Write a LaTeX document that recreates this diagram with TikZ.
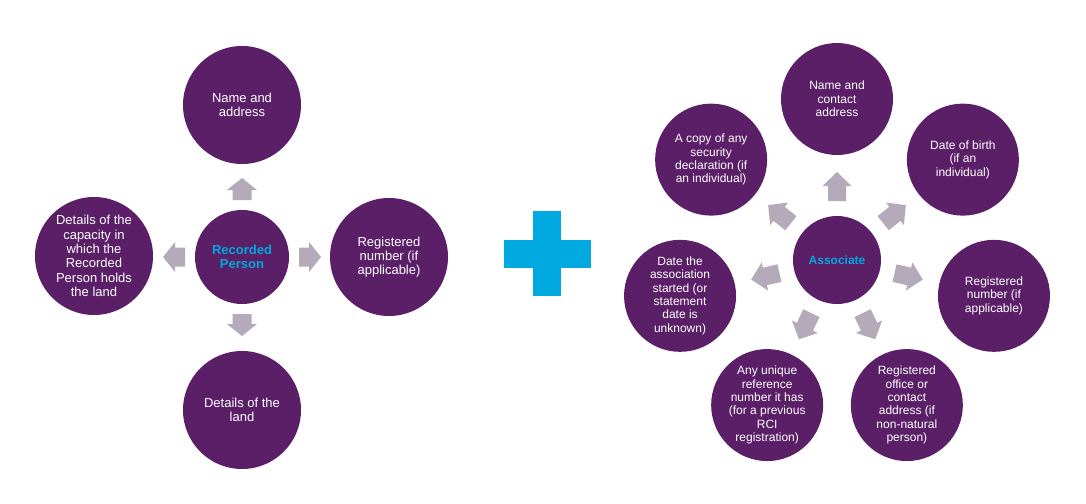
\documentclass[tikz,border=0pt]{standalone}
\usepackage{xcolor}
\usepackage{fontspec}
\setmainfont{Liberation Sans}
\usepackage{tikz}
\usetikzlibrary{positioning, calc}
\definecolor{rci-purple}{HTML}{5A1F66}
\definecolor{rci-grey}{HTML}{B4AABA}
\definecolor{rci-cyan}{HTML}{00A9E0}

\tikzset{
    bubble/.style={circle, fill=rci-purple, text=white, align=center, inner sep=0pt,
        minimum size=118pt, font=\fontsize{13}{14.3}\selectfont},
    smallbubble/.style={bubble, minimum size=112pt, font=\fontsize{12}{13.3}\selectfont},
    hub/.style={bubble, minimum size=94pt, text=rci-cyan, font=\fontsize{13}{14.3}\selectfont\bfseries},
    smallhub/.style={hub, minimum size=88pt, font=\fontsize{12}{13.3}\selectfont\bfseries}
}

\begin{document}
\begin{tikzpicture}[x=1pt, y=1pt]
        \useasboundingbox (0,0) rectangle (1086,-503);

        % recorded person
        \node[hub] (rp) at (242,-257) {Recorded\\Person};
        \node[bubble] (rpName) at (242,-105) {Name and\\address};
        \node[bubble] (rpLand) at (242,-410) {Details of the\\land};
        \node[bubble] (rpCap) at (94,-256) {Details of the\\capacity in\\which the\\Recorded\\Person holds\\the land};
        \node[bubble] (rpReg) at (389,-257) {Registered\\number (if\\applicable)};
        \foreach \a in {0,90,180,270} {
            \begin{scope}[shift={(rp.center)}, rotate=\a]
                \fill[rci-grey] (57,-9.5) -- (67,-9.5) -- (67,-15) -- (79,0)
                    -- (67,15) -- (67,9.5) -- (57,9.5) -- cycle;
            \end{scope}
        }

        % plus
        \fill[rci-cyan] (533,-211) rectangle (561,-296);
        \fill[rci-cyan] (504,-239.5) rectangle (591,-267.5);

        % associate
        \node[smallhub] (as) at (837,-260) {Associate};
        \node[smallbubble] (asName) at ($(as)+(90:161)$) {Name and\\contact\\address};
        \node[smallbubble] (asBirth) at ($(as)+(38.57:161)$) {Date of birth\\(if an\\individual)};
        \node[smallbubble] (asReg) at ($(as)+(-12.86:161)$) {Registered\\number (if\\applicable)};
        \node[smallbubble] (asOffice) at ($(as)+(-64.29:161)$) {Registered\\office or\\contact\\address (if\\non-natural\\person)};
        \node[smallbubble] (asRef) at ($(as)+(-115.71:161)$) {Any unique\\reference\\number it has\\(for a previous\\RCI\\registration)};
        \node[smallbubble] (asDate) at ($(as)+(-167.14:161)$) {Date the\\association\\started (or\\statement\\date is\\unknown)};
        \node[smallbubble] (asCopy) at ($(as)+(141.43:161)$) {A copy of any\\security\\declaration (if\\an individual)};
        \foreach \a in {90,38.57,-12.86,-64.29,-115.71,-167.14,141.43} {
            \begin{scope}[shift={(as.center)}, rotate=\a]
                \fill[rci-grey] (59,-9) -- (74,-9) -- (74,-14.5) -- (88,0)
                    -- (74,14.5) -- (74,9) -- (59,9) -- cycle;
            \end{scope}
        }
    \end{tikzpicture}
\end{document}
